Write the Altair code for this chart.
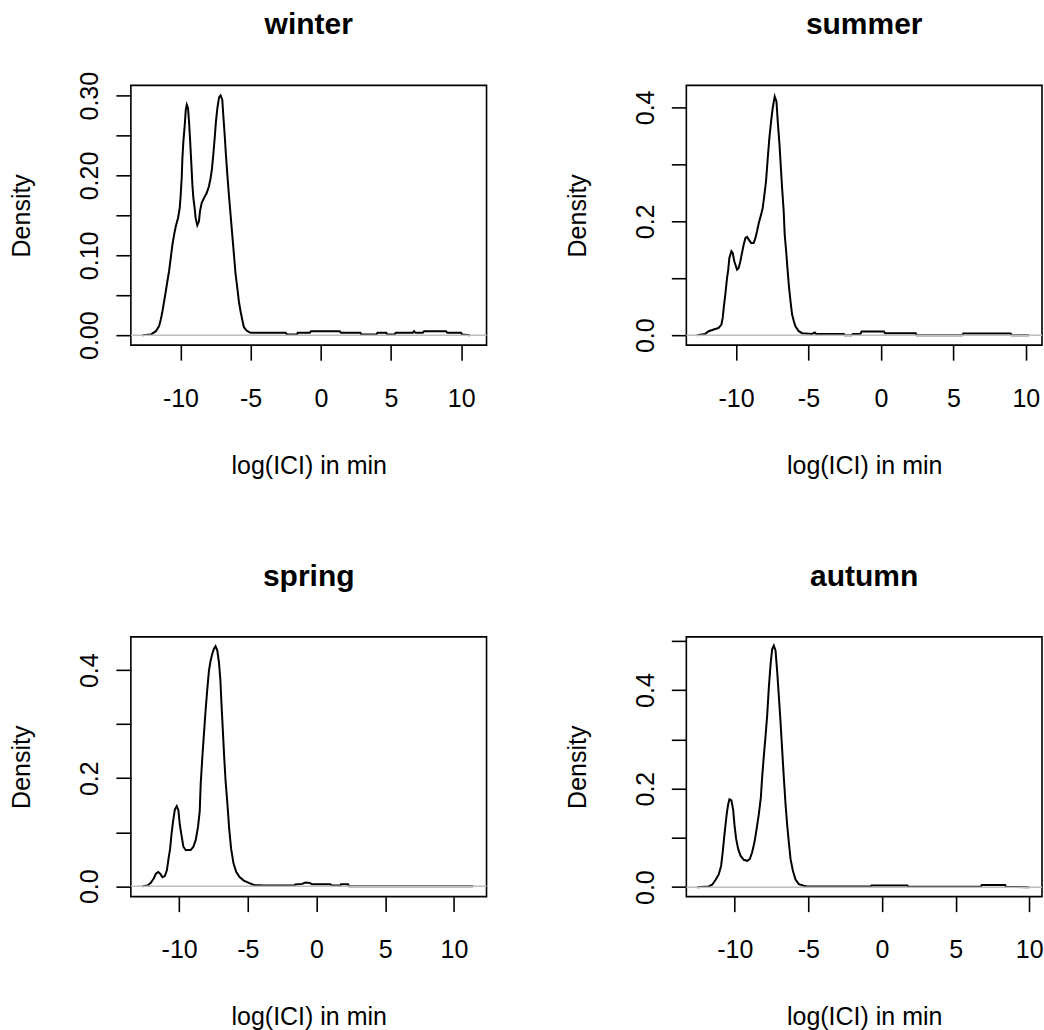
import altair as alt
import pandas as pd

FONT = "Liberation Sans"

# ---------------- data ----------------
seasons = ["winter", "summer", "spring", "autumn"]

x_ticks = [-10, -5, 0, 5, 10]

winter_x = [-12.70, -12.11, -11.75, -11.52, -11.40, -11.28, -11.16, -11.04, -10.93, -10.81,
            -10.69, -10.57, -10.45, -10.33, -10.17, -10.05, -9.98, -9.91, -9.86, -9.79,
            -9.69, -9.62, -9.55, -9.46, -9.39, -9.32, -9.22, -9.15, -9.08, -8.99,
            -8.92, -8.80, -8.68, -8.61, -8.49, -8.32, -8.13, -7.97, -7.85, -7.75,
            -7.66, -7.56, -7.47, -7.37, -7.25, -7.14, -7.02, -6.95, -6.85, -6.76,
            -6.66, -6.55, -6.43, -6.31, -6.19, -6.07, -5.95, -5.84, -5.72, -5.60,
            -5.48, -5.29, -5.01,
            -2.52, -2.40, -1.69, -1.65, -0.79, -0.70, 1.34, 1.43, 2.81, 2.90,
            3.94, 4.04, 4.65, 4.75, 5.24, 5.34, 6.55, 6.64, 6.74, 7.26,
            7.35, 8.91, 9.01, 9.98, 10.07, 10.62]
winter_y = [0.0, 0.0008, 0.005, 0.0113, 0.0196, 0.030, 0.0426, 0.0551, 0.0676, 0.0801,
            0.0968, 0.1135, 0.126, 0.1364, 0.1469, 0.1594, 0.1761, 0.1969, 0.2219, 0.2428,
            0.2637, 0.2824, 0.2887, 0.2845, 0.2678, 0.247, 0.2136, 0.1886, 0.1719, 0.1594,
            0.1469, 0.1377, 0.1427, 0.1552, 0.1656, 0.1719, 0.1781, 0.1865, 0.1969, 0.2094,
            0.2261, 0.247, 0.2678, 0.2845, 0.2979, 0.3004, 0.295, 0.2762, 0.2511, 0.2261,
            0.2011, 0.1761, 0.151, 0.126, 0.101, 0.0759, 0.0592, 0.0426, 0.030, 0.0196,
            0.01, 0.0058, 0.0029,
            0.0029, 0.0008, 0.0008, 0.0029, 0.0029, 0.005, 0.005, 0.0029, 0.0029, 0.0008,
            0.0008, 0.0029, 0.0029, 0.0008, 0.0008, 0.0029, 0.0029, 0.005, 0.0029, 0.0029,
            0.005, 0.005, 0.0029, 0.0029, 0.0008, 0.0]

summer_x = [-12.70, -12.12, -11.89, -11.54, -11.20, -11.01, -10.92, -10.85, -10.74, -10.62,
            -10.55, -10.46, -10.32, -10.23, -10.12, -9.93, -9.82, -9.70, -9.59, -9.47,
            -9.35, -9.24, -9.12, -8.96, -8.78, -8.66, -8.55, -8.43, -8.27, -8.16,
            -8.04, -7.93, -7.81, -7.70, -7.58, -7.47, -7.33, -7.21, -7.12, -7.00,
            -6.89, -6.82, -6.71, -6.64, -6.54, -6.47, -6.36, -6.24, -6.13, -6.01,
            -5.90, -5.67, -5.44, -4.75, -4.56, -4.47, -2.56, -2.49, -2.03, -1.94,
            -1.41, -1.34, 0.21, 0.28, 2.40, 2.47, 5.62, 5.69, 8.96, 9.03, 10.23]
summer_y = [0.0, 0.0023, 0.007, 0.0099, 0.0129, 0.0187, 0.0304, 0.048, 0.0713, 0.1006,
            0.1123, 0.1357, 0.1474, 0.1444, 0.1298, 0.1152, 0.1181, 0.1298, 0.1444, 0.1591,
            0.1708, 0.1725, 0.1678, 0.162, 0.162, 0.1708, 0.1825, 0.1971, 0.2117, 0.2234,
            0.2468, 0.2702, 0.3111, 0.3462, 0.3754, 0.3988, 0.4193, 0.4105, 0.3754, 0.3345,
            0.2877, 0.2585, 0.2175, 0.1766, 0.1474, 0.124, 0.0889, 0.0596, 0.0363, 0.0246,
            0.0158, 0.007, 0.0035, 0.0023, 0.0047, 0.0023, 0.0023, 0.0, 0.0, 0.0023,
            0.0023, 0.0064, 0.0064, 0.0035, 0.0035, 0.0, 0.0, 0.0029, 0.0029, 0.0, 0.0]

spring_x = [-12.66, -12.30, -12.06, -11.86, -11.69, -11.52, -11.38, -11.21, -11.04, -10.89,
            -10.77, -10.65, -10.56, -10.44, -10.31, -10.17, -10.05, -9.95, -9.83, -9.69,
            -9.52, -9.16, -8.96, -8.79, -8.62, -8.50, -8.43, -8.31, -8.19, -8.07,
            -7.95, -7.83, -7.71, -7.59, -7.47, -7.35, -7.22, -7.10, -7.00, -6.92,
            -6.82, -6.72, -6.62, -6.50, -6.36, -6.22, -6.04, -5.84, -5.60, -5.29,
            -4.93, -4.56, -3.84, -1.66, -1.54, -1.05, -0.81, -0.50, -0.33, 1.00,
            1.12, 1.73, 1.78, 2.29, 2.36, 11.40]
spring_y = [0.0, 0.0013, 0.0063, 0.0138, 0.0232, 0.0263, 0.0232, 0.0169, 0.0188, 0.0294,
            0.0513, 0.0701, 0.0951, 0.1202, 0.1421, 0.1484, 0.1402, 0.1139, 0.0951, 0.0732,
            0.067, 0.067, 0.0732, 0.0858, 0.1108, 0.139, 0.1891, 0.2391, 0.2829, 0.3268,
            0.3643, 0.3987, 0.4175, 0.4301, 0.4394, 0.4444, 0.4363, 0.4144, 0.3831, 0.3393,
            0.2892, 0.2391, 0.1953, 0.1577, 0.1077, 0.0701, 0.0419, 0.0263, 0.0169, 0.0106,
            0.0063, 0.0025, 0.0013, 0.0013, 0.0031, 0.0044, 0.0069, 0.0063, 0.0038, 0.0038,
            0.0013, 0.0013, 0.0038, 0.0038, 0.0, 0.0]

autumn_x = [-12.56, -11.77, -11.54, -11.32, -11.09, -10.93, -10.82, -10.73, -10.63, -10.54,
            -10.45, -10.36, -10.23, -10.11, -10.02, -9.91, -9.77, -9.61, -9.39, -9.16,
            -8.98, -8.82, -8.66, -8.53, -8.37, -8.23, -8.14, -8.03, -7.91, -7.80,
            -7.69, -7.57, -7.46, -7.35, -7.23, -7.12, -7.01, -6.89, -6.78, -6.67,
            -6.55, -6.44, -6.33, -6.21, -6.05, -5.87, -5.65, -5.31, -5.08, -0.77,
            -0.70, 1.72, 1.79, 6.71, 6.78, 8.37, 8.41, 10.0]
autumn_y = [0.0, 0.0014, 0.0049, 0.0139, 0.0257, 0.043, 0.0707, 0.0984, 0.1262, 0.1504,
            0.1678, 0.1782, 0.1761, 0.1574, 0.1262, 0.0984, 0.0776, 0.0638, 0.0555, 0.0534,
            0.0568, 0.0707, 0.0915, 0.1158, 0.147, 0.1816, 0.2232, 0.2648, 0.3064, 0.348,
            0.4035, 0.452, 0.4832, 0.4901, 0.4797, 0.4381, 0.3896, 0.3341, 0.2787, 0.2232,
            0.1678, 0.1262, 0.0915, 0.0568, 0.0326, 0.0153, 0.0062, 0.0028, 0.0014, 0.0014,
            0.0035, 0.0035, 0.0007, 0.0007, 0.0042, 0.0042, 0.0007, 0.0]

# axis domains (R's 4 % padded ranges)
x_domains = {"winter": [-13.53, 11.80], "summer": [-13.43, 11.12],
             "spring": [-13.51, 12.37], "autumn": [-13.29, 10.87]}
y_domains = {"winter": [-0.0125, 0.3129], "summer": [-0.0175, 0.4386],
             "spring": [-0.0192, 0.4616], "autumn": [-0.0193, 0.508]}

winter_yticks = [0.0, 0.05, 0.1, 0.15, 0.2, 0.25, 0.3]
winter_ylabels = ["0.00", "", "0.10", "", "0.20", "", "0.30"]
summer_yticks = [0.0, 0.1, 0.2, 0.3, 0.4]
summer_ylabels = ["0.0", "", "0.2", "", "0.4"]
spring_yticks = [0.0, 0.1, 0.2, 0.3, 0.4]
spring_ylabels = ["0.0", "", "0.2", "", "0.4"]
autumn_yticks = [0.0, 0.1, 0.2, 0.3, 0.4, 0.5]
autumn_ylabels = ["0.0", "", "0.2", "", "0.4", ""]

x_title = "log(ICI) in min"
y_title = "Density"

# ---------------- layout constants ----------------
W, H = 356, 260
title_offsets = {"winter": 7, "summer": 21, "spring": 21, "autumn": 21}


def label_expr(values, labels):
    parts = [f"abs(datum.value - ({v})) < 1e-9 ? '{l}'" for v, l in zip(values, labels)]
    return " : ".join(parts) + " : ''"


def panel(name, xs, ys, yticks, ylabels):
    df = pd.DataFrame({"x": xs, "y": ys})
    zero = pd.DataFrame({"y": [0.0]})
    xscale = alt.Scale(domain=x_domains[name], nice=False, zero=False)
    yscale = alt.Scale(domain=y_domains[name], nice=False, zero=False)
    xaxis = alt.Axis(values=x_ticks, labelExpr="'' + datum.value", title=x_title,
                     labelPadding=26, labelBaseline="top", labelAlign="center",
                     titleX=W / 2, titleY=128, titleBaseline="alphabetic",
                     titleAlign="center", titleAngle=0)
    yaxis = alt.Axis(values=yticks, labelExpr=label_expr(yticks, ylabels), title=y_title,
                     labelAngle=270, labelAlign="center", labelBaseline="alphabetic",
                     labelPadding=18, titleAngle=270, titleX=-101, titleY=H / 2,
                     titleBaseline="alphabetic", titleAlign="center")
    line = alt.Chart(df).mark_line(color="black", strokeWidth=2, interpolate="linear").encode(
        x=alt.X("x:Q", scale=xscale, axis=xaxis),
        y=alt.Y("y:Q", scale=yscale, axis=yaxis),
    )
    rule = alt.Chart(zero).mark_rule(color="#BEBEBE", strokeWidth=1.5).encode(
        y=alt.Y("y:Q", scale=yscale, axis=yaxis),
    )
    return alt.layer(line, rule).properties(
        width=W, height=H,
        title=alt.TitleParams(text=name, font=FONT, fontSize=30, fontWeight="bold",
                              color="black", anchor="middle", frame="group",
                              baseline="alphabetic", offset=title_offsets[name]),
    )


p_w = panel("winter", winter_x, winter_y, winter_yticks, winter_ylabels)
p_s = panel("summer", summer_x, summer_y, summer_yticks, summer_ylabels)
p_sp = panel("spring", spring_x, spring_y, spring_yticks, spring_ylabels)
p_a = panel("autumn", autumn_x, autumn_y, autumn_yticks, autumn_ylabels)

row1 = alt.hconcat(p_w, p_s, spacing=76).resolve_scale(x="independent", y="independent")
row2 = alt.hconcat(p_sp, p_a, spacing=76).resolve_scale(x="independent", y="independent")

chart = alt.vconcat(row1, row2, spacing=82).resolve_scale(
    x="independent", y="independent"
).properties(
    padding={"left": 9, "top": 9, "right": 0, "bottom": 0},
    background="white",
).configure_view(
    stroke="black", strokeWidth=1.6
).configure_axis(
    labelFont=FONT, labelFontSize=25, labelColor="black",
    titleFont=FONT, titleFontSize=25, titleFontWeight="normal", titleColor="black",
    tickColor="black", tickSize=15, tickWidth=1.6,
    domain=False, grid=False, labelOverlap=False, labelFlush=False,
)

chart.save("out.html", embed_options={"renderer": "svg", "actions": False})
